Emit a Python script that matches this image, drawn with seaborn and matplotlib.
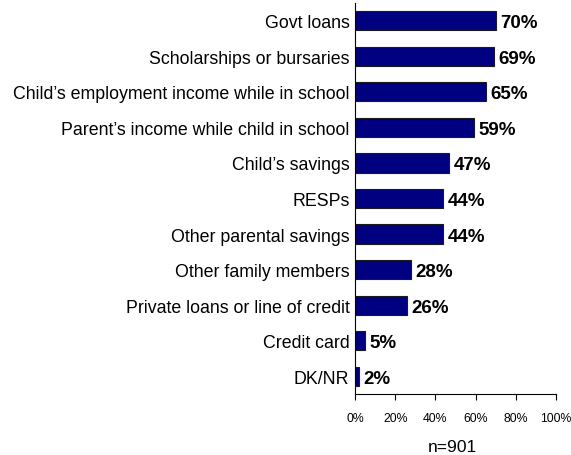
import matplotlib
matplotlib.use("Agg")
import matplotlib.pyplot as plt
import seaborn as sns
import pandas as pd

categories = [
    "Govt loans",
    "Scholarships or bursaries",
    "Child\u2019s employment income while in school",
    "Parent\u2019s income while child in school",
    "Child\u2019s savings",
    "RESPs",
    "Other parental savings",
    "Other family members",
    "Private loans or line of credit",
    "Credit card",
    "DK/NR",
]
values = [70, 69, 65, 59, 47, 44, 44, 28, 26, 5, 2]
x_ticks = [0, 20, 40, 60, 80, 100]
x_tick_labels = ["0%", "20%", "40%", "60%", "80%", "100%"]
sample_note = "n=901"

df = pd.DataFrame({"source": categories, "pct": values})

sns.set_theme(style="white")
plt.rcParams["font.family"] = ["Liberation Sans", "DejaVu Sans"]

fig = plt.figure(figsize=(5.71, 4.56), dpi=100)
ax = fig.add_axes([355 / 571, 1 - 395 / 456, 201 / 571, 391 / 456])

sns.barplot(data=df, x="pct", y="source", orient="h", color="#000080",
            width=0.54, edgecolor="#1a1a1a", linewidth=0.8, saturation=1,
            ax=ax)

for i, v in enumerate(values):
    ax.text(v + 2.2, i, f"{v}%", va="center_baseline", ha="left",
            fontsize=13.5, fontweight="bold", color="black")

ax.set_xlim(0, 100)
ax.set_ylim(10.5, -0.5)
ax.set_xticks(x_ticks)
ax.set_xticklabels(x_tick_labels, fontsize=8.8)
ax.set_xlabel("")
ax.set_ylabel("")
ax.tick_params(axis="y", length=0, labelsize=12.8, pad=4, colors="black")
ax.tick_params(axis="x", length=4, width=0.8, direction="out",
               bottom=True, colors="black", pad=9)

for side in ["top", "right"]:
    ax.spines[side].set_visible(False)
for side in ["left", "bottom"]:
    ax.spines[side].set_color("black")
    ax.spines[side].set_linewidth(0.8)

fig.text(452 / 571, 1 - 452 / 456, sample_note, ha="center", va="baseline",
         fontsize=12.6, color="black")

fig.savefig("out.png", dpi=100)
